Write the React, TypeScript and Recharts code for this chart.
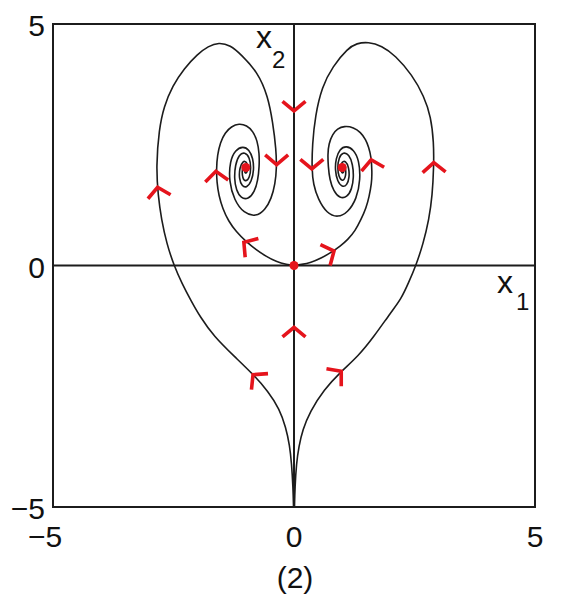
import React from "react";
import {
  ScatterChart,
  Scatter,
  XAxis,
  YAxis,
  ReferenceArea,
  ReferenceLine,
} from "recharts";

// axis ticks
const xTicks = [-5, 0, 5];
const yTicks = [-5, 0, 5];

// heart-shaped outer orbits, from the bottom cusp into each focus
const leftHeart: [number, number][] = [
  [-0.01, -5.0], [-0.02, -4.6], [-0.05, -4.1], [-0.09, -3.72], [-0.17, -3.35],
  [-0.3, -2.97], [-0.54, -2.6], [-0.83, -2.27], [-1.24, -1.88], [-1.66, -1.47],
  [-1.95, -1.06], [-2.14, -0.72], [-2.32, -0.38], [-2.49, 0], [-2.64, 0.45],
  [-2.75, 0.95], [-2.82, 1.45], [-2.86, 2.05], [-2.8, 2.82], [-2.7, 3.29],
  [-2.52, 3.72], [-2.28, 4.08], [-2.0, 4.38], [-1.78, 4.54], [-1.56, 4.62],
  [-1.32, 4.56], [-1.1, 4.37], [-0.75, 4.0], [-0.54, 3.5], [-0.44, 2.96],
  [-0.37, 2.4], [-0.36, 2.0], [-0.39, 1.7], [-0.47, 1.38], [-0.6, 1.15],
  [-0.79, 1.01], [-1.04, 1.08], [-1.24, 1.35], [-1.35, 1.75], [-1.33, 2.16],
  [-1.22, 2.39], [-1.06, 2.47], [-0.93, 2.4], [-0.85, 2.22], [-0.83, 1.98],
  [-0.88, 1.74], [-0.98, 1.61], [-1.08, 1.64], [-1.14, 1.8], [-1.13, 2.02],
  [-1.06, 2.17], [-0.98, 2.15], [-0.95, 2.02], [-0.98, 1.9], [-1.03, 1.92],
  [-1.01, 2.0],
];

const rightHeart: [number, number][] = [
  [0.01, -5.0], [0.02, -4.6], [0.05, -4.1], [0.1, -3.75], [0.18, -3.4],
  [0.33, -3.03], [0.62, -2.57], [0.98, -2.19], [1.33, -1.88], [1.66, -1.47],
  [2.01, -0.97], [2.22, -0.7], [2.38, -0.35], [2.53, 0], [2.68, 0.45],
  [2.8, 0.95], [2.87, 1.45], [2.9, 2.05], [2.9, 2.55], [2.84, 3.08],
  [2.7, 3.5], [2.45, 3.95], [2.1, 4.35], [1.82, 4.55], [1.54, 4.63],
  [1.3, 4.6], [1.12, 4.5], [0.8, 4.12], [0.58, 3.7], [0.44, 3.1],
  [0.38, 2.5], [0.37, 2.0], [0.4, 1.68], [0.5, 1.37], [0.68, 1.08],
  [0.91, 0.99], [1.12, 1.1], [1.3, 1.38], [1.38, 1.78], [1.35, 2.18],
  [1.24, 2.4], [1.08, 2.48], [0.95, 2.41], [0.87, 2.22], [0.85, 1.98],
  [0.9, 1.74], [1.0, 1.62], [1.1, 1.66], [1.15, 1.82], [1.14, 2.03],
  [1.07, 2.17], [0.99, 2.15], [0.96, 2.02], [0.99, 1.9], [1.04, 1.93],
  [1.02, 2.0],
];

// orbits leaving the saddle at the origin
const leftFromOrigin: [number, number][] = [
  [0, 0], [-0.15, 0.02], [-0.37, 0.08], [-0.58, 0.19], [-0.79, 0.33],
  [-1.0, 0.5], [-1.2, 0.7], [-1.36, 0.92], [-1.48, 1.18], [-1.56, 1.45],
  [-1.6, 1.72], [-1.61, 2.0], [-1.59, 2.28], [-1.53, 2.55], [-1.43, 2.75],
  [-1.3, 2.88], [-1.14, 2.94], [-0.98, 2.9], [-0.85, 2.78], [-0.76, 2.58],
  [-0.72, 2.32], [-0.72, 2.05], [-0.75, 1.76], [-0.82, 1.52], [-0.95, 1.37],
  [-1.1, 1.39], [-1.2, 1.56], [-1.24, 1.8], [-1.22, 2.08], [-1.14, 2.3],
  [-1.02, 2.35], [-0.92, 2.24], [-0.89, 2.02], [-0.92, 1.82], [-1.0, 1.73],
  [-1.07, 1.8], [-1.08, 2.0], [-1.03, 2.1], [-0.98, 2.04], [-1.0, 1.98],
];

const rightFromOrigin: [number, number][] = [
  [0, 0], [0.15, 0.02], [0.35, 0.06], [0.56, 0.15], [0.77, 0.27],
  [0.96, 0.4], [1.12, 0.54], [1.27, 0.72], [1.39, 0.95], [1.5, 1.2],
  [1.56, 1.43], [1.61, 1.7], [1.62, 1.93], [1.6, 2.26], [1.55, 2.45],
  [1.49, 2.61], [1.38, 2.76], [1.24, 2.86], [1.04, 2.89], [0.9, 2.83],
  [0.8, 2.72], [0.72, 2.52], [0.7, 2.3], [0.71, 2.05], [0.74, 1.78],
  [0.82, 1.54], [0.95, 1.39], [1.1, 1.41], [1.2, 1.58], [1.24, 1.82],
  [1.22, 2.1], [1.14, 2.3], [1.02, 2.35], [0.93, 2.24], [0.9, 2.02],
  [0.93, 1.83], [1.0, 1.74], [1.07, 1.81], [1.08, 2.0], [1.03, 2.1],
  [0.98, 2.04], [1.0, 1.98],
];

// equilibrium points
const equilibria: [number, number][] = [[0, 0], [-1, 2.03], [1, 2.03]];

// red arrow heads: x, y, heading in degrees
const arrowX = [-2.83, -1.62, -0.36, -1.04, 0, 0.37, 1.6, 2.9, 0.83, 0, -0.85, 0.98];
const arrowY = [1.62, 1.95, 2.09, 0.48, 3.2, 2.0, 2.19, 2.13, 0.3, -1.28, -2.26, -2.19];
const arrowDir = [100, 95, 270, 145, 270, 270, 100, 92, 25, 90, 134, 40];

const toPts = (a: [number, number][]) => a.map(([x, y]) => ({ x, y }));
const arrows = arrowX.map((x, i) => ({ x, y: arrowY[i], dir: arrowDir[i] }));

const INK = "#1c1c1c";
const RED = "#e5141c";
const FONT = "'Liberation Sans', Arial, sans-serif";

const fmt = (v: number) => (v < 0 ? `\u2212${-v}` : `${v}`);

const XTick = (props: any) => {
  const { x, y, payload } = props;
  return (
    <text x={x} y={y} dx={payload.value < 0 ? -8 : 0} dy={32} textAnchor="middle"
      fontSize={30} fill="#111" fontFamily={FONT}>
      {fmt(payload.value)}
    </text>
  );
};

const YTick = (props: any) => {
  const { x, y, payload } = props;
  return (
    <text x={x} y={y} dy={12} textAnchor="end" fontSize={30} fill="#111" fontFamily={FONT}>
      {fmt(payload.value)}
    </text>
  );
};

const noDot = () => <g />;

const Arrow = (props: any) => {
  const { cx, cy, payload } = props;
  const a = (payload.dir * Math.PI) / 180;
  const bx = -Math.cos(a);
  const by = Math.sin(a);
  const L = 15;
  const s = (50 * Math.PI) / 180;
  const l1x = cx + L * (bx * Math.cos(s) - by * Math.sin(s));
  const l1y = cy + L * (bx * Math.sin(s) + by * Math.cos(s));
  const l2x = cx + L * (bx * Math.cos(-s) - by * Math.sin(-s));
  const l2y = cy + L * (bx * Math.sin(-s) + by * Math.cos(-s));
  return (
    <path d={`M${l1x},${l1y}L${cx},${cy}L${l2x},${l2y}`} fill="none" stroke={RED}
      strokeWidth={3.6} strokeLinejoin="miter" />
  );
};

const RedDot = (props: any) => <circle cx={props.cx} cy={props.cy} r={4.5} fill={RED} />;

const curve = { stroke: INK, strokeWidth: 1.6, fill: "none" };

export default function App() {
  return (
    <div style={{ position: "relative", width: 563, height: 591, fontFamily: FONT }}>
      <ScatterChart width={563} height={583} margin={{ top: 16, right: 36, bottom: 24, left: 0 }}>
        <XAxis type="number" dataKey="x" domain={[-5, 5]} ticks={xTicks} axisLine={false}
          tickLine={false} tick={<XTick />} height={60} interval={0} />
        <YAxis type="number" dataKey="y" domain={[-5, 5]} ticks={yTicks} axisLine={false}
          tickLine={false} tick={<YTick />} width={45} interval={0} />
        <ReferenceArea x1={-5} x2={5} y1={-5} y2={5} fill="none" stroke={INK} strokeWidth={2} />
        <ReferenceLine y={0} stroke={INK} strokeWidth={2} />
        <ReferenceLine x={0} stroke={INK} strokeWidth={2} />
        <Scatter data={toPts(leftHeart)} line={curve} lineJointType="basis" shape={noDot} isAnimationActive={false} />
        <Scatter data={toPts(rightHeart)} line={curve} lineJointType="basis" shape={noDot} isAnimationActive={false} />
        <Scatter data={toPts(leftFromOrigin)} line={curve} lineJointType="basis" shape={noDot} isAnimationActive={false} />
        <Scatter data={toPts(rightFromOrigin)} line={curve} lineJointType="basis" shape={noDot} isAnimationActive={false} />
        <Scatter data={toPts(equilibria)} shape={RedDot} isAnimationActive={false} />
        <Scatter data={arrows} shape={Arrow} isAnimationActive={false} />
      </ScatterChart>
      <svg width={563} height={591} style={{ position: "absolute", left: 0, top: 0, pointerEvents: "none" }}>
        <text x={248} y={40} fontSize={32} fill="#111" fontFamily={FONT}>x</text>
        <text x={264} y={60} fontSize={24} fill="#111" fontFamily={FONT}>2</text>
        <text x={489} y={285} fontSize={32} fill="#111" fontFamily={FONT}>x</text>
        <text x={508} y={302} fontSize={24} fill="#111" fontFamily={FONT}>1</text>
        <text x={287} y={580} fontSize={30} fill="#111" fontFamily={FONT} textAnchor="middle">(2)</text>
      </svg>
    </div>
  );
}
